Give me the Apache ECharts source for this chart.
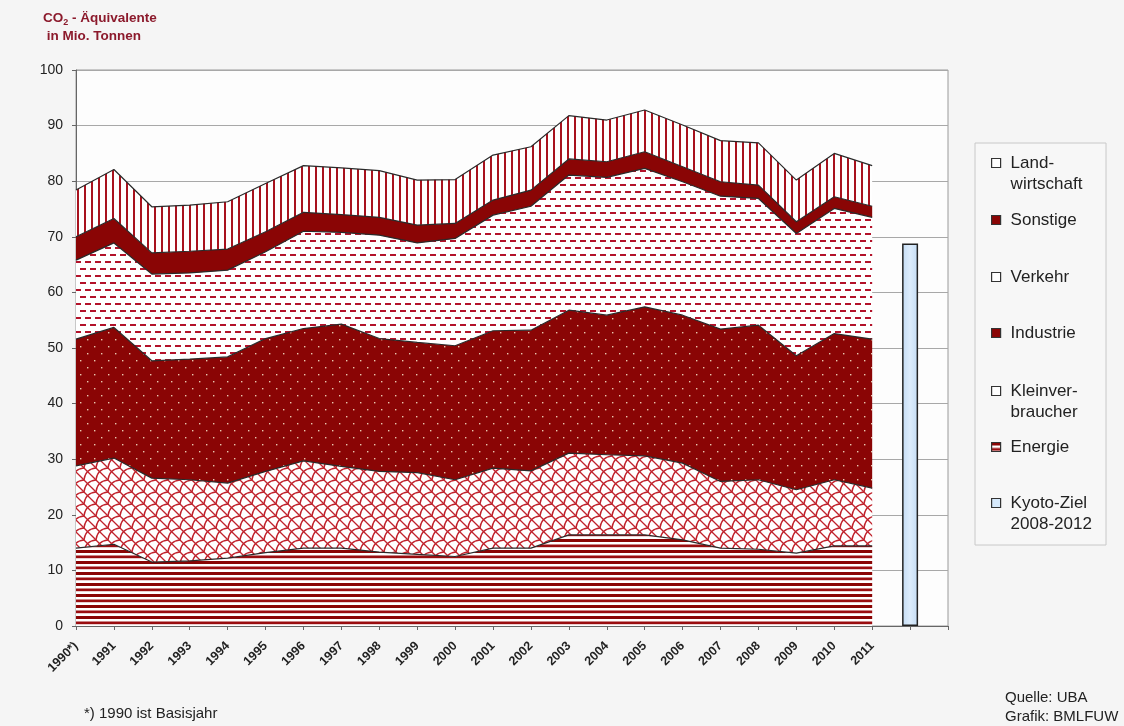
<!DOCTYPE html>
<html><head><meta charset="utf-8">
<script src="https://cdn.jsdelivr.net/npm/echarts@6/dist/echarts.min.js"></script>
<style>html,body{margin:0;padding:0;background:#f5f5f5}#c{width:1124px;height:726px}</style>
</head><body><div id="c"></div>
<script>
// ---- data (Mio. t CO2-Äquivalente, per sector, stacked) ----
const years = ['1990*)','1991','1992','1993','1994','1995','1996','1997','1998','1999','2000','2001','2002','2003','2004','2005','2006','2007','2008','2009','2010','2011','',''];
const energie = [14.0,14.7,11.5,11.7,12.2,13.2,14.0,14.0,13.3,12.9,12.5,14.0,14.0,16.4,16.4,16.4,15.5,14.0,13.8,13.1,14.4,14.4];
const kleinverbraucher = [14.8,15.5,15.1,14.6,13.5,14.6,15.7,14.7,14.5,14.7,13.8,14.4,13.9,14.7,14.4,14.2,13.8,12.0,12.5,11.4,11.9,10.4];
const industrie = [22.8,23.5,21.1,21.7,22.7,23.9,23.8,25.6,23.9,23.4,24.1,24.7,25.3,25.7,25.1,26.8,26.6,27.4,27.8,24.1,26.3,26.8];
const verkehr = [14.2,15.2,15.6,15.5,15.6,15.6,17.5,16.5,18.6,17.9,19.3,20.8,22.3,24.3,24.8,24.9,24.0,23.9,22.8,22.0,22.5,21.9];
const sonstige = [4.2,4.4,3.8,3.9,3.8,3.6,3.4,3.2,3.2,3.2,2.7,2.7,2.9,2.9,2.8,3.0,2.7,2.6,2.4,2.1,2.1,2.0];
const landwirtschaft = [8.4,8.8,8.3,8.3,8.5,8.7,8.4,8.4,8.4,8.1,7.9,8.1,7.8,7.8,7.5,7.5,7.5,7.4,7.6,7.5,7.8,7.3];
const kyotoZiel = 68.8;
const kyotoIndex = 22;
const yTicks = {min:0, max:100, interval:10};

// ---- patterns ----
const DR = '#8a0505';
const FONT = 'Liberation Sans, Arial, sans-serif';
function tile(w,h,draw){const c=document.createElement('canvas');c.width=w;c.height=h;const g=c.getContext('2d');draw(g,w,h);return {image:c,repeat:'repeat'};}
const patEnergie = tile(4,11,(g,w,h)=>{g.fillStyle='#fff';g.fillRect(0,0,w,h);g.fillStyle=DR;g.fillRect(0,0,w,3);g.fillStyle='#9a0d10';g.fillRect(0,5.5,w,2.7);});
const patKlein = tile(12,12,(g,w,h)=>{g.fillStyle='#fff';g.fillRect(0,0,w,h);g.strokeStyle='#c0222c';g.lineWidth=1.3;
  const s=12;
  for(const [ox,oy] of [[0,0],[-s,0],[s,0],[0,-s],[0,s]]){
    g.beginPath();g.moveTo(ox,oy+s);g.quadraticCurveTo(ox+1,oy+1,ox+s,oy);g.stroke();
  }
  g.beginPath();g.moveTo(0,0);g.lineTo(s,s);g.stroke();
  g.beginPath();g.moveTo(-s/2,s/2);g.lineTo(s/2,s*1.5);g.stroke();
  g.beginPath();g.moveTo(s/2,-s/2);g.lineTo(s*1.5,s/2);g.stroke();});
const patIndustrie = tile(14,14,(g,w,h)=>{g.fillStyle=DR;g.fillRect(0,0,w,h);g.fillStyle='#e9c9b0';g.fillRect(3,3,1.4,1.4);g.fillRect(10,10,1.4,1.4);});
const patVerkehr = tile(10,14,(g,w,h)=>{g.fillStyle='#fff';g.fillRect(0,0,w,h);g.fillStyle='#b3122a';g.fillRect(0,2,6,2);g.fillRect(5,9,5,2);g.fillRect(0,9,1,2);});
const patLand = tile(7,4,(g,w,h)=>{g.fillStyle='#fff';g.fillRect(0,0,w,h);g.fillStyle='#a8121e';g.fillRect(0,0,2,h);});

const edge = {color:'#2a2a2a', width:1.2};
function area(name, data, pat){
  return {name, type:'line', stack:'total', data, symbol:'none', smooth:false,
    lineStyle:edge, areaStyle:{color:pat, opacity:1}, itemStyle:{color:DR}, z:2};
}
const kyotoData = years.map((_,i)=> i===kyotoIndex ? kyotoZiel : '-');

const legendItems = [
  {name:'Landwirtschaft', label:'\nLand-\nwirtschaft', cy:163, lines:3, icon:{color:'#fff'}},
  {name:'Sonstige', label:'Sonstige', cy:220, lines:1, icon:{color:DR}},
  {name:'Verkehr', label:'Verkehr', cy:277, lines:1, icon:{color:'#fff'}},
  {name:'Industrie', label:'Industrie', cy:333, lines:1, icon:{color:DR}},
  {name:'Kleinverbraucher', label:'\nKleinver-\nbraucher', cy:391, lines:3, icon:{color:'#fff'}},
  {name:'Energie', label:'Energie', cy:447, lines:1, icon:{color:patEnergie}},
  {name:'Kyoto-Ziel 2008-2012', label:'\nKyoto-Ziel\n2008-2012', cy:503, lines:3, icon:{color:'#d6e9fb'}}
];
const LH = 21;
const legends = legendItems.map(it=>({
  left: 991, top: it.cy - it.lines*LH/2, orient:'vertical', padding:0,
  itemWidth:9, itemHeight:9, selectedMode:false,
  data:[{name:it.name, icon:'rect', itemStyle:Object.assign({borderColor:'#333', borderWidth:1.2}, it.icon)}],
  formatter: ()=>it.label,
  textStyle:{fontFamily:FONT, fontSize:17, lineHeight:LH, color:'#222', padding:[0,0,0,5]}
}));

const chart = echarts.init(document.getElementById('c'));
chart.setOption({
  backgroundColor:'#f5f5f5',
  animation:false,
  textStyle:{fontFamily:FONT},
  title:{left:38, top:4, text:'{a|CO}{s|2}{a| - Äquivalente}\n{a| in Mio. Tonnen}',
    textStyle:{rich:{a:{fontSize:13.5, fontWeight:'bold', color:'#8c1a2c', lineHeight:18, fontFamily:FONT},
      s:{fontSize:9, fontWeight:'bold', color:'#8c1a2c', verticalAlign:'bottom', padding:[7,0,0,0], fontFamily:FONT}}}},
  grid:{left:76, top:70, width:872, height:556, show:true, backgroundColor:'#fdfdfd', borderColor:'#9a9a9a', borderWidth:1},
  legend: legends,
  graphic:[
    {type:'rect', shape:{x:975, y:143, width:131, height:402}, style:{fill:'#f7f7f7', stroke:'#c8c8c8', lineWidth:1}, z:0},
    {type:'text', left:84, top:706, style:{text:'*) 1990 ist Basisjahr', fontSize:15, fill:'#222', fontFamily:FONT}},
    {type:'text', left:1005, top:688, style:{text:'Quelle: UBA\nGrafik: BMLFUW', fontSize:15, lineHeight:19, fill:'#222', fontFamily:FONT}}
  ],
  xAxis:{type:'category', data:years, boundaryGap:false,
    axisLine:{lineStyle:{color:'#666'}},
    axisTick:{show:true, length:4, interval:0, lineStyle:{color:'#666'}},
    axisLabel:{interval:0, rotate:45, fontSize:12.5, fontWeight:'bold', color:'#222', margin:18},
    splitLine:{show:false}},
  yAxis:{type:'value', min:yTicks.min, max:yTicks.max, interval:yTicks.interval,
    axisLine:{show:true, lineStyle:{color:'#666'}},
    axisTick:{show:true, length:4, lineStyle:{color:'#666'}},
    axisLabel:{fontSize:14, color:'#222', margin:13},
    splitLine:{lineStyle:{color:'#a8a8a8', width:1}}},
  series:[
    area('Energie', energie, patEnergie),
    area('Kleinverbraucher', kleinverbraucher, patKlein),
    area('Industrie', industrie, patIndustrie),
    area('Verkehr', verkehr, patVerkehr),
    area('Sonstige', sonstige, DR),
    area('Landwirtschaft', landwirtschaft, patLand),
    {name:'Kyoto-Ziel 2008-2012', type:'bar', data:kyotoData, barWidth:16, z:3,
      itemStyle:{color:new echarts.graphic.LinearGradient(0,0,1,0,[{offset:0,color:'#c4dcf4'},{offset:0.5,color:'#dcecfc'},{offset:1,color:'#c4dcf4'}]),
        borderColor:'#222', borderWidth:1.5}}
  ]
});
</script></body></html>
